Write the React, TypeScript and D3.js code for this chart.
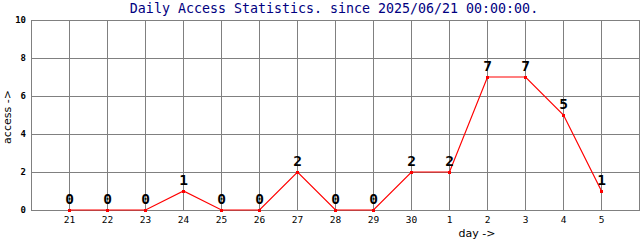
import React from "react";
import * as d3 from "d3";

const days = ["21", "22", "23", "24", "25", "26", "27", "28", "29", "30", "1", "2", "3", "4", "5"];
const access = [0, 0, 0, 1, 0, 0, 2, 0, 0, 2, 2, 7, 7, 5, 1];
const yTicks = [0, 2, 4, 6, 8, 10];
const title = "Daily Access Statistics. since 2025/06/21 00:00:00.";

const W = 640;
const H = 240;
const left = 31;
const right = 639;
const top = 20;
const bottom = 210;

export default function App() {
  const x = d3.scaleLinear().domain([-1, 15]).range([left, right]);
  const y = d3.scaleLinear().domain([0, 10]).range([bottom, top]);
  const gridX = d3.range(-1, 16);
  const line = d3
    .line<number>()
    .x((_, i) => x(i))
    .y((d) => y(d));
  const mono = "'DejaVu Sans Mono', 'Liberation Mono', monospace";
  return (
    <svg
      width={W}
      height={H}
      style={{ position: "absolute", left: 0, top: 0, background: "#fff" }}
    >
      <rect x={0} y={0} width={W} height={H} fill="#fff" />
      <text
        x={334}
        y={13}
        textAnchor="middle"
        fontFamily={mono}
        fontSize={13.3}
        fill="#000080"
      >
        {title}
      </text>
      <g stroke="#808080" strokeWidth={1} shapeRendering="crispEdges">
        {gridX.map((g) => (
          <line key={"gx" + g} x1={x(g) + 0.5} x2={x(g) + 0.5} y1={top} y2={bottom} />
        ))}
        {yTicks.map((t) => (
          <line key={"gy" + t} x1={left} x2={W} y1={y(t) + 0.5} y2={y(t) + 0.5} />
        ))}
      </g>
      <g fontFamily={mono} fontSize={9} fontWeight="bold" fill="#000">
        {yTicks.map((t) => (
          <text key={"yl" + t} x={26} y={y(t) + 3} textAnchor="end">
            {t}
          </text>
        ))}
      </g>
      <g fontFamily={mono} fontSize={9.5} fill="#000">
        {days.map((d, i) => (
          <text key={"xl" + i} x={x(i) + 0.5} y={223} textAnchor="middle">
            {d}
          </text>
        ))}
      </g>
      <path
        d={line(access) || ""}
        fill="none"
        stroke="#ff0000"
        strokeWidth={1.2}
        transform="translate(0.5,0)"
      />
      <g fill="#ff0000">
        {access.map((v, i) => (
          <rect key={"m" + i} x={x(i) - 1} y={y(v) - 1} width={3} height={3} />
        ))}
      </g>
      <g fontFamily={mono} fontSize={14.5} fontWeight="bold" fill="#000">
        {access.map((v, i) => (
          <text key={"v" + i} x={x(i) + 0.5} y={y(v) - 6} textAnchor="middle">
            {v}
          </text>
        ))}
      </g>
      <text
        x={477}
        y={237}
        textAnchor="middle"
        fontFamily="'DejaVu Sans', sans-serif"
        fontSize={11}
        fill="#000"
      >
        day -&gt;
      </text>
      <text
        transform={`translate(11,117) rotate(-90)`}
        textAnchor="middle"
        fontFamily="'DejaVu Sans', sans-serif"
        fontSize={11}
        fill="#000"
      >
        access -&gt;
      </text>
    </svg>
  );
}
